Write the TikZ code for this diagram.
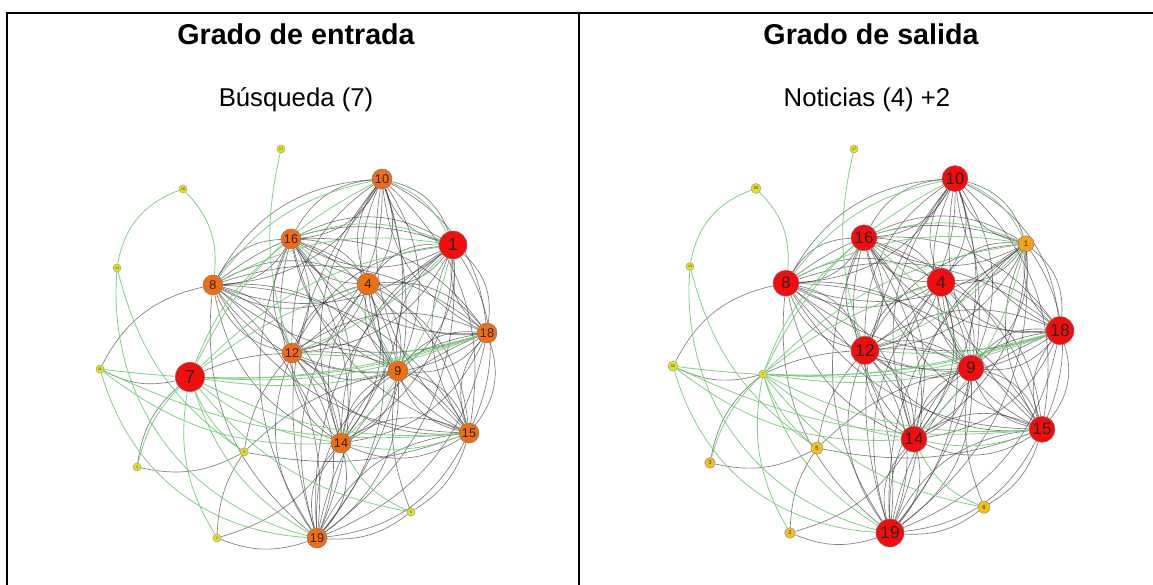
\documentclass[tikz,border=0pt]{standalone}
\usepackage{fontspec}
\setmainfont{Liberation Sans}
\usetikzlibrary{backgrounds}
\definecolor{nred}{RGB}{246,12,12}
\definecolor{norange}{RGB}{240,110,15}
\definecolor{nyellow}{RGB}{228,226,24}
\definecolor{ngold}{RGB}{240,196,22}
\definecolor{namber}{RGB}{246,162,22}
\definecolor{egray}{RGB}{50,50,50}
\definecolor{egreen}{RGB}{120,202,120}
\tikzset{
  vtx/.style={circle, inner sep=0pt, draw=black!55, line width=0.35pt, text=black!85},
  bigred/.style={vtx, fill=nred, minimum size=21pt, font=\fontsize{13}{13}\selectfont},
  hugered/.style={vtx, fill=nred, minimum size=22pt, font=\fontsize{14}{14}\selectfont},
  midorange/.style={vtx, fill=norange, minimum size=15pt, font=\fontsize{9.5}{9.5}\selectfont},
  largeorange/.style={vtx, fill=norange, minimum size=16.5pt, font=\fontsize{10}{10}\selectfont},
  tinyyellow/.style={vtx, fill=nyellow, minimum size=6pt, draw=black!40, font=\fontsize{2.6}{2.6}\selectfont},
  smallyellow/.style={vtx, fill=nyellow, minimum size=7.5pt, draw=black!40, font=\fontsize{3.2}{3.2}\selectfont},
  smallgold/.style={vtx, fill=ngold, minimum size=8pt, draw=black!45, font=\fontsize{4}{4}\selectfont},
  midgold/.style={vtx, fill=ngold, minimum size=9pt, draw=black!45, font=\fontsize{4.5}{4.5}\selectfont},
  amber/.style={vtx, fill=namber, minimum size=12pt, font=\fontsize{6}{6}\selectfont},
  redR/.style={vtx, fill=nred, minimum size=19.5pt, font=\fontsize{12.5}{12.5}\selectfont},
  redRL/.style={vtx, fill=nred, minimum size=21pt, font=\fontsize{13}{13}\selectfont},
  gedge/.style={draw=egray, opacity=0.62, line width=0.5pt},
  cedge/.style={draw=egreen, opacity=0.9, line width=0.6pt},
  frameline/.style={draw=black, line width=1.1pt},
  titletext/.style={anchor=base, font=\fontsize{21.5}{21.5}\selectfont\bfseries},
  subtext/.style={anchor=base, font=\fontsize{19.3}{19.3}\selectfont},
}
\newcommand\drawnet[1]{%
  \foreach \a [count=\i] in {1,4,8,9,10,12,14,15,16,18,19}{%
    \foreach \b [count=\j] in {1,4,8,9,10,12,14,15,16,18,19}{%
      \ifnum\i<\j
        \draw[gedge] (#1\a) to[bend left=28] (#1\b);
        \draw[gedge] (#1\b) to[bend left=28] (#1\a);
      \fi
    }}%
  \foreach \a/\b/\t in {8/11/-25, 11/7/-20, 3/7/20, 3/5/-20, 2/5/15, 2/14/-20,
      6/9/15, 15/6/20, 19/6/-20, 2/19/-20, 7/12/10, 5/12/15, 5/9/15, 5/15/-15}{%
    \draw[gedge] (#1\a) to[bend left=\t] (#1\b);}%
  \foreach \a/\b/\t in {17/12/-15, 20/8/25, 20/13/-30, 13/19/-40, 11/19/-35,
      11/14/-20, 13/5/-20, 6/14/20, 7/2/-20, 7/1/18, 7/10/18, 7/16/15, 7/4/10,
      7/9/-10, 7/18/-12, 7/15/-15, 7/14/-15, 7/19/-20, 7/6/-20, 7/5/-15, 7/3/-15,
      8/1/18, 8/10/20, 16/1/20, 10/1/20, 1/14/15, 1/12/12, 18/7/10, 15/11/15,
      15/14/15, 18/11/12, 12/18/-10, 16/9/12}{%
    \draw[cedge] (#1\a) to[bend left=\t] (#1\b);}%
}
\begin{document}
\begin{tikzpicture}[x=0.75pt, y=-0.75pt]
\useasboundingbox (0,0) rectangle (1153,585);
% frame
\draw[frameline] (7,585) -- (7,13) -- (1153,13);
\draw[frameline] (579,13) -- (579,585);
% titles
\node[titletext] (t1) at (296,45) {Grado de entrada};
\node[subtext] (s1) at (296,107) {Búsqueda (7)};
\node[titletext] (t2) at (871,45) {Grado de salida};
\node[subtext] (s2) at (867,107) {Noticias (4) +2};
% left graph nodes
\foreach \n/\x/\y/\s in {1/453/245/bigred, 2/217/538/tinyyellow, 3/137/467/tinyyellow,
    4/368/284/largeorange, 5/244/452/tinyyellow, 6/411/512/tinyyellow, 7/190/377/hugered,
    8/213/285/midorange, 9/398/371/midorange, 10/382/179/midorange, 11/100/369/tinyyellow,
    12/292/353/midorange, 13/117/268/tinyyellow, 14/341/443/midorange, 15/469/433/midorange,
    16/291/239/midorange, 17/281/149/tinyyellow, 18/487/333/midorange, 19/317/538/midorange,
    20/183/189/tinyyellow}{%
  \node[\s] (L\n) at (\x,\y) {\n};}
% right graph nodes
\foreach \n/\x/\y/\s in {1/453/245/amber, 2/217/538/smallgold, 3/137/467/smallgold,
    4/368/284/redRL, 5/244/452/midgold, 6/411/512/midgold, 7/190/377/tinyyellow,
    8/213/285/redR, 9/398/371/redR, 10/382/179/redR, 11/100/369/smallyellow,
    12/292/353/redRL, 13/117/268/tinyyellow, 14/341/443/redR, 15/469/433/redR,
    16/291/239/redR, 17/281/149/tinyyellow, 18/487/333/redRL, 19/317/538/redRL,
    20/183/189/smallyellow}{%
  \node[\s] (R\n) at ({\x+573},{149+(\y-149)*0.987}) {\n};}
\begin{pgfonlayer}{background}
  \fill[white] (0,0) rectangle (1153,585);
  \drawnet{L}
  \drawnet{R}
\end{pgfonlayer}
\end{tikzpicture}
\end{document}
